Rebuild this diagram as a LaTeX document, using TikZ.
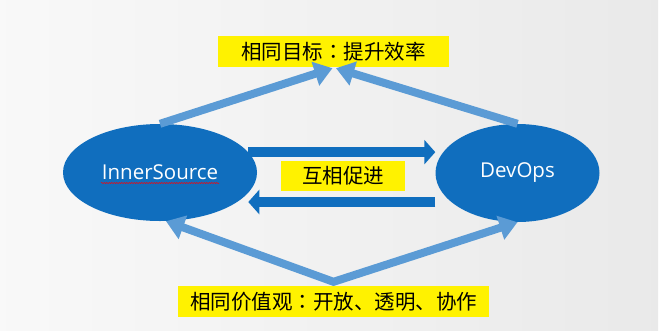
\documentclass[tikz,border=0pt]{standalone}
\usepackage{fontspec}
\setmainfont{Open Sans}
\newfontfamily\cjk{Noto Sans CJK SC}
\newfontfamily\cjkjp{Noto Sans CJK JP}
\usetikzlibrary{shapes.geometric}
\usetikzlibrary{arrows.meta}
\usetikzlibrary{decorations.pathmorphing}
\usetikzlibrary{calc}

\definecolor{darkblue}{RGB}{16,110,190}
\definecolor{lightblue}{RGB}{91,155,213}
\newcommand\midcolon{{\cjkjp ：}}

\begin{document}
\begin{tikzpicture}[x=1pt, y=-1pt,
    blob/.style={ellipse, fill=darkblue, inner sep=0pt, text=white, font=\fontsize{20.5}{24}\selectfont},
    tag/.style={rectangle, fill=yellow, inner sep=0pt, minimum height=31pt, font=\cjk\fontsize{20.5}{24}\selectfont},
    goalarrow/.style={draw=lightblue, line width=8pt, -{Triangle[length=18pt,width=24pt]}},
    valuearrow/.style={draw=lightblue, line width=8pt, line join=miter, {Triangle[length=18pt,width=24pt]}-{Triangle[length=18pt,width=24pt]}},
    linkarrow/.style={draw=darkblue, line width=10pt, -{Triangle[length=11pt,width=24pt]}}]

        % background
        \shade[left color=black!2.5, right color=black!8.5] (0,0) rectangle (658,330);
        \useasboundingbox (0,0) rectangle (660,330);

        \node[blob, minimum width=194pt, minimum height=97pt] (inner) at (160,172.5) {InnerSource};
        \node[blob, minimum width=164pt, minimum height=98pt] (devops) at (517.5,173) {DevOps};

        \draw[red, line width=0.5pt, decorate, decoration={snake, amplitude=0.6pt, segment length=2.5pt}]
          ($(inner)+(-59,10.5)$) -- ($(inner)+(59,10.5)$);

        \node[tag, minimum width=231pt] (goal) at (333.5,51.5) {相同目标\midcolon 提升效率};
        \node[tag, minimum width=124pt, minimum height=30pt] (mutual) at (343,176) {互相促进};
        \node[tag, minimum width=311pt] (value) at (333.5,301.5) {相同价值观\midcolon 开放、透明、协作};

        \draw[goalarrow] (inner.north) -- ([xshift=-1pt,yshift=-1pt]goal.south);
        \draw[goalarrow] (devops.north) -- ([xshift=2.5pt,yshift=-1pt]goal.south);

        \draw[valuearrow] ([xshift=6pt]inner.south) -- ([yshift=4pt]value.north) -- (devops.south);

        \coordinate (backstart) at ([yshift=-29pt]devops.west);
        \draw[linkarrow] (inner.13) -- (inner.13 -| devops.west);
        \draw[linkarrow] (backstart) -- (backstart -| inner.13);

      \end{tikzpicture}
\end{document}
